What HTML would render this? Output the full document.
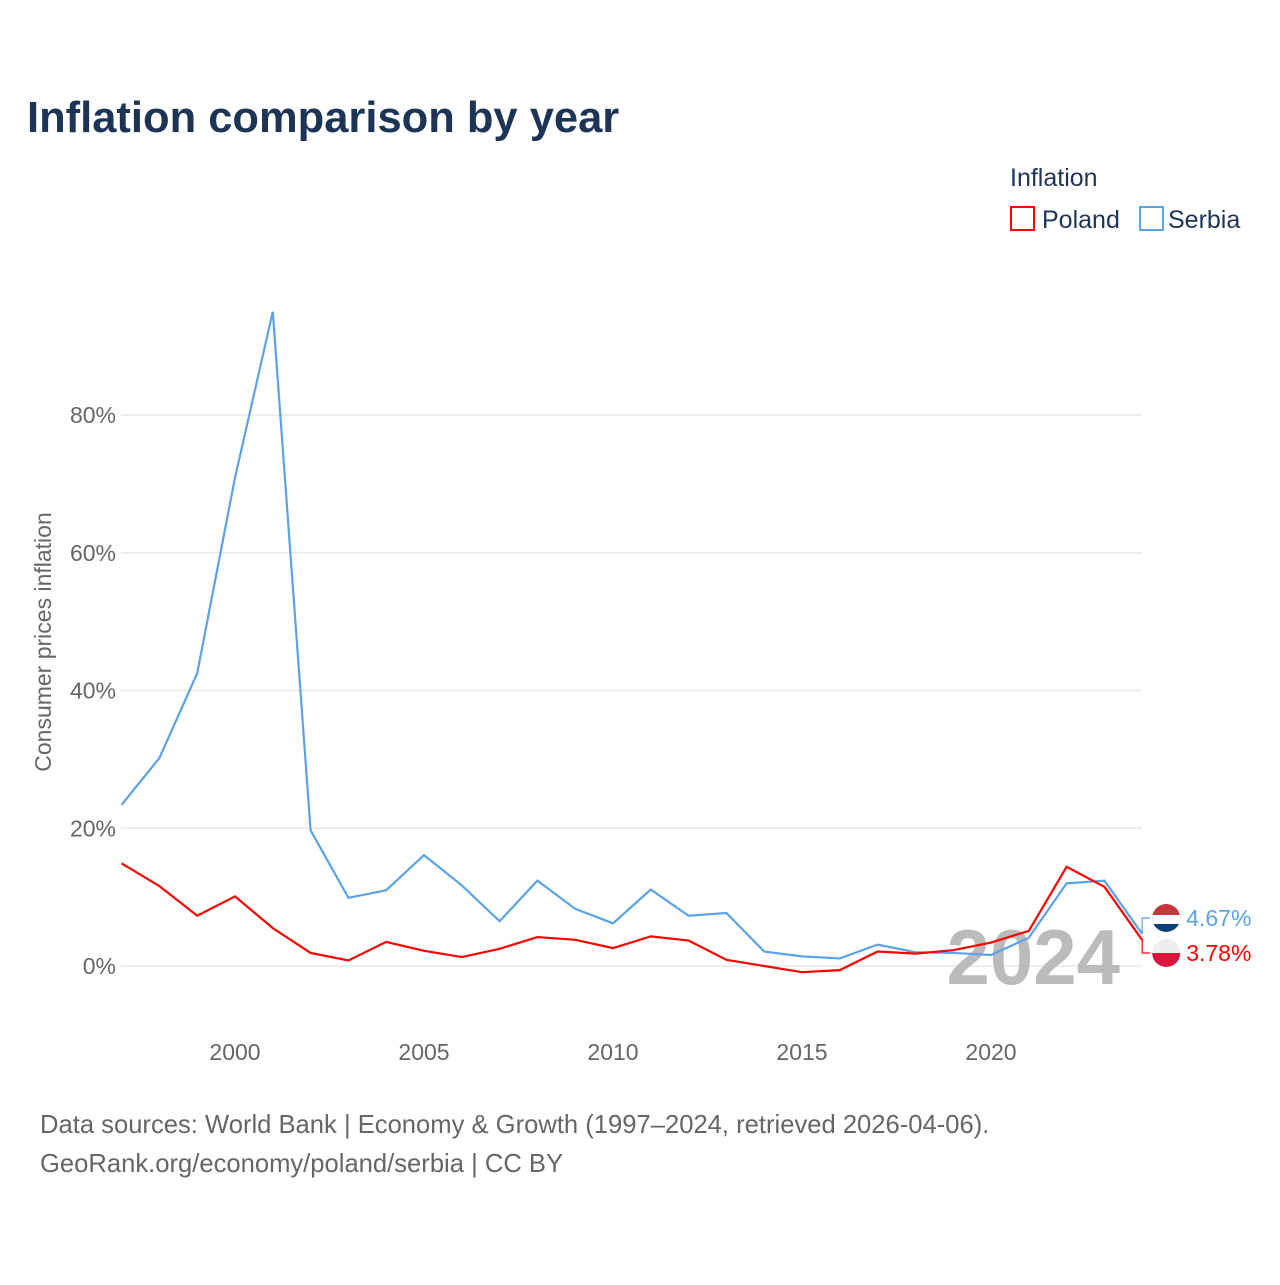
<!DOCTYPE html>
<html><head><meta charset="utf-8"><style>
body{margin:0;width:1280px;height:1280px;background:#fff;font-family:"Liberation Sans",sans-serif;overflow:hidden}
</style></head><body>
<svg width="1280" height="1280" id="chart">
<text x="27" y="132" font-size="43.5" font-weight="bold" fill="#1c3557">Inflation comparison by year</text>
<text x="1010" y="186" font-size="25" fill="#1c3557">Inflation</text>
<g><rect x="1011" y="207" width="23" height="23" fill="none" stroke="#f00" stroke-width="2"/><text x="1042" y="228" font-size="25" fill="#1c3557">Poland</text></g>
<g><rect x="1140" y="207" width="23" height="23" fill="none" stroke="#5ba3e8" stroke-width="2"/><text x="1168" y="228" font-size="25" fill="#1c3557">Serbia</text></g>
<text transform="translate(51,642) rotate(-90)" text-anchor="middle" font-size="23" fill="#666">Consumer prices inflation</text>
<g id="grid"></g><g id="yt"></g><g id="xt"></g>
<text x="1120" y="984" text-anchor="end" font-size="78" font-weight="bold" fill="#bbb">2024</text>
<g id="lines"></g>
<text x="40" y="1133" font-size="25.6" fill="#666">Data sources: World Bank | Economy &amp; Growth (1997–2024, retrieved 2026-04-06).</text>
<text x="40" y="1172" font-size="25.6" fill="#666">GeoRank.org/economy/poland/serbia | CC BY</text>
</svg>
<script>
const years=[1997,1998,1999,2000,2001,2002,2003,2004,2005,2006,2007,2008,2009,2010,2011,2012,2013,2014,2015,2016,2017,2018,2019,2020,2021,2022,2023,2024];
const serbia=[23.4,30.2,42.5,70.9,95,19.7,9.9,11.0,16.1,11.7,6.5,12.4,8.3,6.2,11.1,7.3,7.7,2.1,1.4,1.1,3.1,2.0,1.9,1.6,4.1,12.0,12.4,4.67];
const poland=[14.9,11.6,7.3,10.1,5.5,1.9,0.8,3.5,2.2,1.3,2.5,4.2,3.8,2.6,4.3,3.7,0.9,0.0,-0.9,-0.6,2.1,1.8,2.3,3.4,5.1,14.4,11.5,3.78];
const yTicks=[0,20,40,60,80];
const xTicks=[2000,2005,2010,2015,2020];
const X=y=>121.6+(y-1997)*37.8, Y=v=>966-v*6.8875;
const NS="http://www.w3.org/2000/svg";
function mk(t,a,p){const e=document.createElementNS(NS,t);for(const k in a)e.setAttribute(k,a[k]);p.appendChild(e);return e;}
const grid=document.getElementById('grid'),yt=document.getElementById('yt'),xt=document.getElementById('xt'),lines=document.getElementById('lines');
yTicks.forEach(v=>{
 const l=mk('line',{x1:121,x2:1142,y1:Y(v),y2:Y(v),stroke:'#e8e8e8','stroke-width':1.5},grid);
 
 
 const t=mk('text',{x:116,y:Y(v)+8,'text-anchor':'end','font-size':23,fill:'#666'},yt);t.textContent=v+'%';
 
 
});
xTicks.forEach(v=>{
 const t=mk('text',{x:X(v),y:1060,'text-anchor':'middle','font-size':23,fill:'#666'},xt);t.textContent=v;
 
 
});
function series(d,c,name){
 const p=mk('polyline',{points:d.map((v,i)=>X(years[i])+','+Y(v)).join(' '),fill:'none',stroke:c,'stroke-width':2.2},lines);
 
 
}
series(serbia,'#5ba3e8','serbia');series(poland,'#f00','poland');
const lastS=serbia[serbia.length-1],lastP=poland[poland.length-1];
const endX=X(2024);
const lyS=918,lyP=953;
mk('polyline',{points:`${endX},${Y(lastS)} ${endX},${lyS} ${endX+8},${lyS}`,fill:'none',stroke:'#5ba3e8','stroke-width':1.2},lines);
mk('polyline',{points:`${endX},${Y(lastP)} ${endX},${lyP} ${endX+8},${lyP}`,fill:'none',stroke:'#f00','stroke-width':1.2},lines);
const fs=mk('g',{},lines);
mk('path',{d:`M${endX+10},${lyS} a14,14 0 0 1 28,0 z`,fill:'#c6363c'},fs);
mk('path',{d:`M${endX+10},${lyS} a14,14 0 0 0 28,0 z`,fill:'#0c4076'},fs);
mk('rect',{x:endX+10,y:lyS-3,width:28,height:9,fill:'#fff'},fs);
const fp=mk('g',{},lines);
mk('path',{d:`M${endX+10},${lyP} a14,14 0 0 1 28,0 z`,fill:'#eee'},fp);
mk('path',{d:`M${endX+10},${lyP} a14,14 0 0 0 28,0 z`,fill:'#dc143c'},fp);
const ts=mk('text',{x:endX+44,y:lyS+8,'font-size':23,fill:'#5ba3e8'},lines);ts.textContent=lastS.toFixed(2)+'%';


const tp=mk('text',{x:endX+44,y:lyP+8,'font-size':23,fill:'#f00'},lines);tp.textContent=lastP.toFixed(2)+'%';


</script>
</body></html>
